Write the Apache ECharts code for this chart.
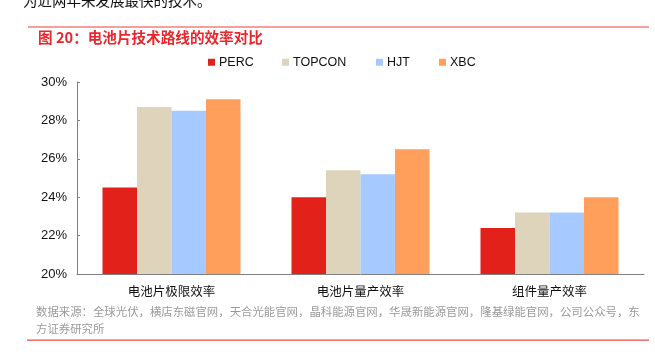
<!DOCTYPE html>
<html>
<head>
<meta charset="utf-8">
<script src="https://cdn.jsdelivr.net/npm/echarts@6/dist/echarts.min.js"></script>
<style>
html,body{margin:0;padding:0;background:#fff;}
#c{width:655px;height:361px;}
</style>
</head>
<body>
<div id="c"></div>
<script>
var categories = ['电池片极限效率', '电池片量产效率', '组件量产效率'];
var seriesNames = ['PERC', 'TOPCON', 'HJT', 'XBC'];
var perc = [24.5, 24.0, 22.4];
var topcon = [28.7, 25.4, 23.2];
var hjt = [28.5, 25.2, 23.2];
var xbc = [29.1, 26.5, 24.0];
var yTicks = [20, 22, 24, 26, 28, 30];
var colors = ['#E2211A', '#DED4BB', '#A6C9FF', '#FF9F5B'];
var legendX = [208, 282, 376, 439];

var FONT = '"Liberation Sans", "Noto Sans CJK SC", Arial, sans-serif';
var chart = echarts.init(document.getElementById('c'), null, {renderer: 'canvas'});
var dataSets = [perc, topcon, hjt, xbc];

var legends = seriesNames.map(function (n, i) {
  return {
    data: [n], left: legendX[i], top: 56,
    icon: 'rect', itemWidth: 7, itemHeight: 7, itemGap: 4,
    textStyle: {fontFamily: FONT, fontSize: 12.5, color: '#111', padding: [0, 0, 0, -1]},
    selectedMode: false, padding: 0
  };
});

var option = {
  animation: false,
  backgroundColor: '#fff',
  legend: legends,
  grid: {left: 77, right: 11, top: 82, bottom: 87, containLabel: false},
  xAxis: {
    type: 'category', data: categories,
    axisLine: {lineStyle: {color: '#808080', width: 1}},
    axisTick: {inside: true, length: 3, lineStyle: {color: '#808080'}},
    axisLabel: {fontFamily: FONT, fontSize: 12.5, color: '#111', margin: 12}
  },
  yAxis: {
    type: 'value', min: yTicks[0], max: yTicks[yTicks.length - 1], interval: 2,
    axisLine: {show: true, lineStyle: {color: '#808080', width: 1}},
    axisTick: {show: true, inside: true, length: 3, lineStyle: {color: '#808080'}},
    splitLine: {show: false},
    axisLabel: {fontFamily: FONT, fontSize: 13, color: '#111', margin: 10,
      formatter: function (v) { return v + '%'; }}
  },
  series: seriesNames.map(function (n, i) {
    return {
      name: n, type: 'bar', data: dataSets[i], barWidth: 34.5, barGap: '0%',
      itemStyle: {color: colors[i]}
    };
  }),
  graphic: [
    {type: 'text', left: 23, top: -7, style: {text: '为近两年来发展最快的技术。', font: '14.5px "Noto Sans CJK SC", sans-serif', fill: '#111'}},
    {type: 'rect', shape: {x: 28, y: 26, width: 621, height: 2}, style: {fill: '#F4A09A'}},
    {type: 'text', left: 38, top: 30, style: {text: '图 20：电池片技术路线的效率对比', font: 'bold 14.6px "Noto Sans CJK SC", sans-serif', fill: '#E8262B'}},
    {type: 'text', left: 36, top: 306, style: {text: '数据来源：全球光伏，横店东磁官网，天合光能官网，晶科能源官网，华晟新能源官网，隆基绿能官网，公司公众号，东', font: '11.4px "Noto Sans CJK SC", sans-serif', fill: '#9a9a9a'}},
    {type: 'text', left: 36, top: 323, style: {text: '方证券研究所', font: '11.4px "Noto Sans CJK SC", sans-serif', fill: '#9a9a9a'}},
    {type: 'rect', shape: {x: 27, y: 339.5, width: 622, height: 1.2}, style: {fill: '#E84C4C'}}
  ]
};
chart.setOption(option);
</script>
</body>
</html>
